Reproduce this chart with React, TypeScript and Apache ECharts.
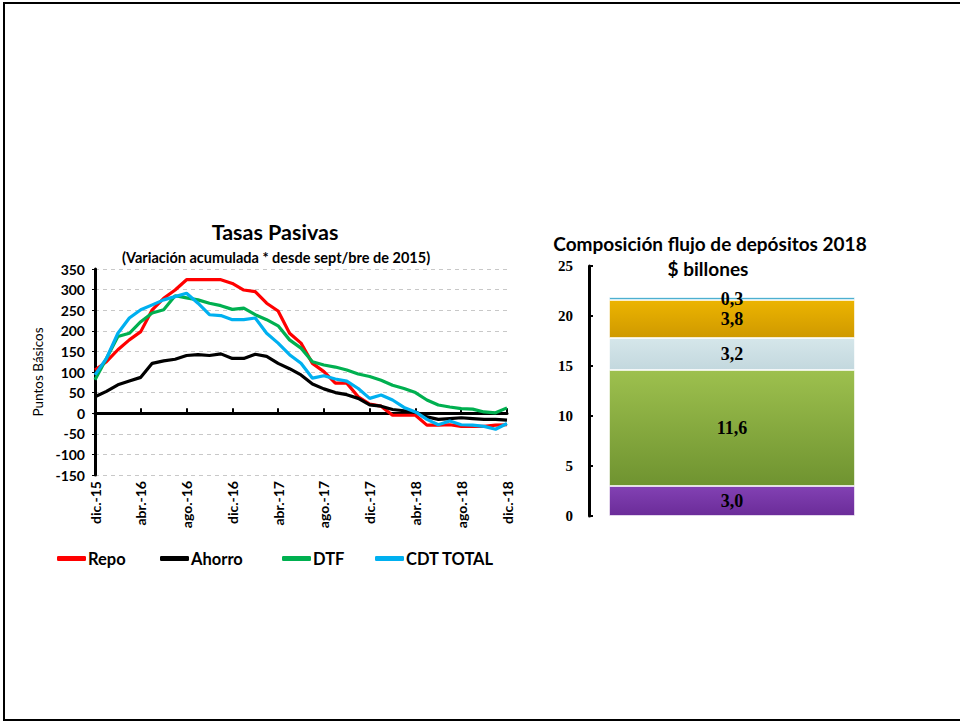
import React, { useEffect, useRef } from "react";
import * as echarts from "echarts";

const months: string[] = [
  "dic.-15",
  "ene.-16", "feb.-16", "mar.-16", "abr.-16", "may.-16", "jun.-16", "jul.-16", "ago.-16", "sep.-16", "oct.-16", "nov.-16", "dic.-16",
  "ene.-17", "feb.-17", "mar.-17", "abr.-17", "may.-17", "jun.-17", "jul.-17", "ago.-17", "sep.-17", "oct.-17", "nov.-17", "dic.-17",
  "ene.-18", "feb.-18", "mar.-18", "abr.-18", "may.-18", "jun.-18", "jul.-18", "ago.-18", "sep.-18", "oct.-18", "nov.-18", "dic.-18",
];

const repo: number[] = [105, 125, 154, 178, 198, 251, 279, 299, 324, 324, 324, 324, 315, 299, 295, 267, 248, 194, 170, 121, 101, 73, 73, 40, 22, 17, -5, -5, -5, -29, -29, -28, -32, -32, -32, -29, -28];
const ahorro: number[] = [40, 53, 69, 78, 87, 121, 127, 131, 140, 142, 140, 144, 133, 133, 143, 138, 121, 108, 93, 71, 59, 50, 45, 36, 20, 17, 9, 6, 3, -9, -15, -13, -11, -13, -15, -15, -17];
const dtf: number[] = [81, 133, 186, 194, 222, 243, 251, 285, 280, 275, 267, 261, 252, 255, 239, 227, 212, 178, 158, 125, 117, 112, 105, 95, 89, 80, 68, 60, 50, 32, 20, 15, 11, 10, 3, 1, 13];
const cdt: number[] = [93, 133, 194, 231, 251, 263, 275, 283, 291, 267, 239, 237, 227, 227, 231, 194, 170, 142, 121, 85, 91, 83, 78, 60, 36, 44, 32, 14, 3, -15, -28, -19, -28, -29, -32, -39, -25];

const lineNames: string[] = ["Repo", "Ahorro", "DTF", "CDT TOTAL"];
const lineColors: string[] = ["#ff0000", "#000000", "#00b050", "#00b0f0"];

const barCategory: string[] = ["2018"];
const barParts: number[] = [3.0, 11.6, 3.2, 3.8, 0.3];
const barPartNames: string[] = ["Parte 1", "Parte 2", "Parte 3", "Parte 4", "Parte 5"];
const barTop: string[] = ["#8241b3", "#9dc04e", "#d5e6ea", "#ecb400", "#5cc3e0"];
const barBottom: string[] = ["#6b2c99", "#6f9330", "#c3d8de", "#cf9900", "#3e9cc0"];

const leftTicks = { min: -150, max: 350, interval: 50 };
const rightTicks = { min: 0, max: 25, interval: 5 };

export default function App() {
  const ref = useRef<HTMLDivElement>(null);

  useEffect(() => {
    if (!ref.current) return;
    const chart = echarts.init(ref.current, null, { renderer: "svg" });
    const sans = "Lato, 'Open Sans', sans-serif";
    const serif = "'Liberation Serif', 'DejaVu Serif', serif";
    const lineData = [repo, ahorro, dtf, cdt];
    const legendLefts = [52, 155, 277, 370];

    const option: any = {
      animation: false,
      backgroundColor: "#ffffff",
      title: [
        {
          text: "Tasas Pasivas",
          left: 270,
          top: 216,
          textAlign: "center",
          textStyle: { fontFamily: sans, fontWeight: "bold", fontSize: 21.5, color: "#000" },
        },
        {
          text: "(Variación acumulada * desde sept/bre de 2015)",
          left: 271,
          top: 245,
          textAlign: "center",
          textStyle: { fontFamily: sans, fontWeight: "bold", fontSize: 14.5, color: "#000" },
        },
        {
          text: "Composición flujo de depósitos 2018",
          left: 705,
          top: 229,
          textAlign: "center",
          textStyle: { fontFamily: sans, fontWeight: "bold", fontSize: 19, color: "#000" },
        },
        {
          text: "$ billones",
          left: 703,
          top: 254,
          textAlign: "center",
          textStyle: { fontFamily: sans, fontWeight: "bold", fontSize: 19, color: "#000" },
        },
      ],
      legend: lineNames.map((name, i) => ({
        data: [name],
        left: legendLefts[i],
        top: 545,
        itemWidth: 29,
        itemHeight: 5,
        icon: "roundRect",
        textStyle: { fontFamily: sans, fontWeight: "bold", fontSize: 16.5, color: "#000", padding: [0, 0, 0, -3] },
      })),
      grid: [
        { left: 95, top: 269, width: 412, height: 206 },
        { left: 589, top: 266, width: 286, height: 250 },
      ],
      xAxis: [
        {
          gridIndex: 0,
          type: "category",
          data: months,
          boundaryGap: false,
          axisLine: { onZero: true, lineStyle: { color: "#000", width: 3 } },
          axisTick: { show: true, inside: true, interval: 3, length: 5, lineStyle: { color: "#000", width: 2 } },
          axisLabel: {
            interval: 3,
            rotate: 90,
            margin: 6,
            fontFamily: sans,
            fontWeight: "bold",
            fontSize: 14,
            color: "#000",
          },
          splitLine: { show: false },
        },
        {
          gridIndex: 1,
          type: "category",
          data: barCategory,
          show: false,
        },
      ],
      yAxis: [
        {
          gridIndex: 0,
          type: "value",
          min: leftTicks.min,
          max: leftTicks.max,
          interval: leftTicks.interval,
          name: "Puntos Básicos",
          nameLocation: "middle",
          nameRotate: 90,
          nameGap: 50,
          nameTextStyle: { fontFamily: sans, fontSize: 13.5, color: "#000" },
          axisLine: { show: true, lineStyle: { color: "#000", width: 3 } },
          axisTick: { show: true, length: 3, lineStyle: { color: "#000", width: 1 } },
          axisLabel: { fontFamily: sans, fontWeight: "bold", fontSize: 14, color: "#000", margin: 10 },
          splitLine: { show: true, lineStyle: { color: "#c8c8c8", type: [4, 4], width: 1 } },
        },
        {
          gridIndex: 1,
          type: "value",
          min: rightTicks.min,
          max: rightTicks.max,
          interval: rightTicks.interval,
          axisLine: { show: true, lineStyle: { color: "#000", width: 3 } },
          axisTick: { show: true, inside: true, length: 4, lineStyle: { color: "#000", width: 2 } },
          axisLabel: { fontFamily: serif, fontWeight: "bold", fontSize: 15, color: "#000", margin: 16 },
          splitLine: { show: false },
        },
      ],
      series: [
        ...lineNames.map((name, i) => ({
          name,
          type: "line",
          xAxisIndex: 0,
          yAxisIndex: 0,
          data: lineData[i],
          showSymbol: false,
          symbol: "none",
          color: lineColors[i],
          lineStyle: { color: lineColors[i], width: 3.2 },
          z: 3 + i,
        })),
        ...barParts.map((v, i) => ({
          name: barPartNames[i],
          type: "bar",
          stack: "deps",
          xAxisIndex: 1,
          yAxisIndex: 1,
          barWidth: 246,
          data: [v],
          itemStyle: {
            color: new echarts.graphic.LinearGradient(0, 0, 0, 1, [
              { offset: 0, color: barTop[i] },
              { offset: 1, color: barBottom[i] },
            ]),
            borderColor: "rgba(255,255,255,0.6)",
            borderWidth: 1,
          },
          label: {
            show: true,
            position: "inside",
            formatter: (p: any) => Number(p.value).toFixed(1).replace(".", ","),
            fontFamily: serif,
            fontWeight: "bold",
            fontSize: 18,
            color: "#000",
          },
        })),
      ],
      graphic: [
        { type: "rect", shape: { x: 3, y: 2, width: 2, height: 719 }, style: { fill: "#000" } },
        { type: "rect", shape: { x: 3, y: 2, width: 957, height: 2 }, style: { fill: "#000" } },
        { type: "rect", shape: { x: 3, y: 719, width: 957, height: 2 }, style: { fill: "#000" } },
      ],
    };

    chart.setOption(option);
    return () => chart.dispose();
  }, []);

  return (
    <div
      ref={ref}
      style={{ position: "absolute", left: 0, top: 0, width: 960, height: 721, background: "#fff" }}
    />
  );
}
